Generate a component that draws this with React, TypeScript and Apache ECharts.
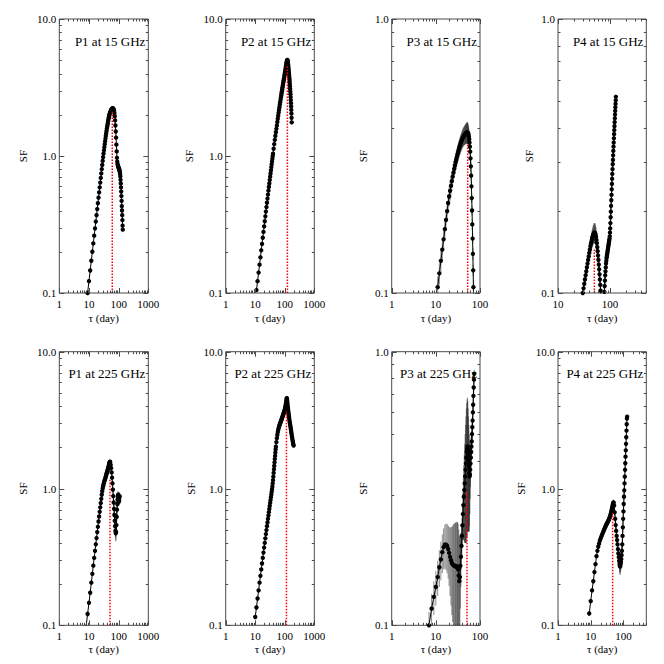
import React, { useEffect, useRef } from 'react';
import * as echarts from 'echarts';

// ---------------- data ----------------
const titles = ['P1 at 15 GHz', 'P2 at 15 GHz', 'P3 at 15 GHz', 'P4 at 15 GHz', 'P1 at 225 GHz', 'P2 at 225 GHz', 'P3 at 225 GHz', 'P4 at 225 GHz'];

const xRanges = [[1, 1000], [1, 1000], [1, 100], [10, 500], [1, 1000], [1, 1000], [1, 100], [1, 500]];
const yRanges = [[0.1, 10], [0.1, 10], [0.1, 1], [0.1, 1], [0.1, 10], [0.1, 10], [0.1, 1], [0.1, 10]];

// red dotted marker (tau of peak, height)
const markTau = [61, 123, 52.6, 50, 51, 114, 50.7, 46.8];
const markTop = [2.1, 4.5, 0.352, 0.144, 1.19, 3.65, 0.31, 0.66];

// P1 at 15 GHz
const p1_15Tau = [9, 10, 11, 12, 13, 14, 15, 16, 17, 18, 19, 20, 21, 22, 23, 24, 25, 26, 27, 28, 29, 30, 31, 32, 33, 34, 35, 36, 37, 38, 39, 40, 41, 42, 43, 44, 45, 46, 47, 48, 49, 50,
  52, 54, 56, 58, 60, 62, 64, 66, 68, 70, 72, 74, 76, 78, 80, 82, 84, 86, 88, 90, 92, 94, 96, 98, 100, 102, 104, 106, 108, 110, 112, 114, 116, 118, 120, 122, 124, 126, 128, 130, 132, 134, 136, 138];
const p1_15Sf = [0.100, 0.122, 0.146, 0.172, 0.200, 0.230, 0.262, 0.296, 0.332, 0.370,
  0.410, 0.452, 0.496, 0.542, 0.590, 0.640, 0.692, 0.746, 0.802, 0.860,
  0.920, 0.980, 1.04, 1.10, 1.16, 1.22, 1.28, 1.34, 1.40, 1.46,
  1.52, 1.58, 1.63, 1.68, 1.73, 1.78, 1.83, 1.88, 1.92, 1.96,
  2.00, 2.04,
  2.09, 2.13, 2.17, 2.20, 2.22, 2.23, 2.23, 2.22, 2.19, 2.14,
  2.06, 1.95, 1.82, 1.67, 1.51, 1.36, 1.21, 1.08, 0.97, 0.91,
  0.875, 0.855, 0.84, 0.83, 0.82, 0.81, 0.80, 0.79, 0.78, 0.76,
  0.74, 0.71, 0.67, 0.63, 0.59, 0.55, 0.51, 0.47, 0.43, 0.40,
  0.37, 0.34, 0.31, 0.29];
const p1_15Err: number[] = [];

// P2 at 15 GHz
const p2_15Tau = [11, 12, 13, 14, 15, 16, 17, 18, 19, 20, 21, 22, 23, 24, 25, 26, 27, 28, 29, 30, 31, 32, 33, 34, 35, 36, 37, 38, 39, 40,
  42, 44, 46, 48, 50, 52, 54, 56, 58, 60, 62, 64, 66, 68, 70, 72, 74, 76, 78, 80, 82, 84, 86, 88, 90, 92, 94, 96, 98, 100,
  102, 104, 106, 108, 110, 112, 114, 116, 118, 120, 122, 124, 126, 128, 130, 132, 134, 136, 138, 140,
  142, 144, 146, 148, 150, 152, 154, 156, 158, 160, 162, 164, 166, 168, 170, 172];
const p2_15Sf = [0.105, 0.122, 0.141, 0.161, 0.182, 0.205, 0.228, 0.253, 0.279, 0.306,
  0.334, 0.363, 0.393, 0.424, 0.456, 0.489, 0.523, 0.558, 0.594, 0.630,
  0.668, 0.706, 0.745, 0.785, 0.826, 0.867, 0.910, 0.953, 0.996, 1.04,
  1.13, 1.22, 1.31, 1.40, 1.49, 1.58, 1.67, 1.77, 1.87, 1.97,
  2.07, 2.17, 2.27, 2.37, 2.47, 2.57, 2.67, 2.77, 2.87, 2.97,
  3.07, 3.17, 3.27, 3.37, 3.47, 3.57, 3.67, 3.77, 3.87, 3.97,
  4.07, 4.17, 4.28, 4.40, 4.52, 4.63, 4.74, 4.84, 4.93, 4.99,
  5.02, 4.98, 4.88, 4.76, 4.62, 4.48, 4.34, 4.20, 4.06, 3.92,
  3.78, 3.64, 3.50, 3.36, 3.22, 3.08, 2.95, 2.82, 2.69, 2.56,
  2.43, 2.30, 2.17, 2.04, 1.90, 1.76];
const p2_15Err: number[] = [];

// P3 at 15 GHz
const p3_15Tau = [11, 12, 13, 14, 15, 16, 17, 18, 19, 20, 21, 22, 23, 24, 25, 26, 27, 28, 29, 30, 31, 32, 33, 34, 35, 36, 37, 38, 39, 40,
  41, 42, 43, 44, 45, 46, 47, 48, 49, 50, 51, 52, 53, 54, 55, 56, 57, 58, 59, 60, 61, 62, 63, 64, 65, 66, 67, 68, 69, 70, 71, 72, 73];
const p3_15Sf = [0.105, 0.118, 0.131, 0.144, 0.157, 0.171, 0.185, 0.199, 0.213, 0.225,
  0.236, 0.246, 0.256, 0.266, 0.275, 0.284, 0.292, 0.300, 0.307, 0.314,
  0.321, 0.327, 0.333, 0.339, 0.344, 0.349, 0.354, 0.358, 0.362, 0.366,
  0.369, 0.372, 0.374, 0.376, 0.378, 0.380, 0.381, 0.383, 0.384, 0.385,
  0.385, 0.385, 0.384, 0.382, 0.378, 0.372, 0.364, 0.354, 0.342, 0.328,
  0.310, 0.290, 0.268, 0.245, 0.222, 0.200, 0.178, 0.158, 0.139, 0.121,
  0.105, 0.091, 0.079];
const p3_15Err = [0.010, 0.011, 0.012, 0.013, 0.014, 0.015, 0.016, 0.017, 0.017, 0.018,
  0.019, 0.019, 0.020, 0.020, 0.021, 0.021, 0.022, 0.022, 0.023, 0.023,
  0.024, 0.024, 0.025, 0.025, 0.026, 0.026, 0.027, 0.027, 0.028, 0.028,
  0.029, 0.029, 0.030, 0.030, 0.031, 0.031, 0.032, 0.032, 0.033, 0.034,
  0.035, 0.035, 0.034, 0.032, 0.030, 0.027, 0.024, 0.021, 0.018, 0.016,
  0.014, 0.012, 0.011, 0.010, 0.009, 0.008, 0.008, 0.007, 0.007, 0.006,
  0.006, 0.005, 0.005];

// P4 at 15 GHz
const p4_15Tau = [28, 29, 30, 31, 32, 33, 34, 35, 36, 37, 38, 39, 40, 41, 42, 43, 44, 45, 46, 47, 48, 49, 50, 51, 52, 53, 54, 55, 56, 57,
  58, 59, 60, 61, 62, 63, 64, 65, 66, 67, 68, 69, 70, 71, 72, 73, 74, 75, 76,
  77, 78, 79, 80, 81, 82, 83, 84, 85, 86, 87, 88, 89, 90, 91, 92, 93, 94, 95, 96, 97, 98, 99, 100, 101, 102, 103, 104,
  105, 106, 107, 108, 109, 110, 111, 112, 113, 114, 115, 116, 117, 118, 119, 120, 121, 122, 123, 124, 125, 126, 127, 128, 129, 130];
const p4_15Sf = [0.088, 0.094, 0.100, 0.104, 0.108, 0.112, 0.116, 0.120, 0.124, 0.128,
  0.132, 0.136, 0.140, 0.144, 0.148, 0.151, 0.154, 0.157, 0.160, 0.162,
  0.164, 0.165, 0.166, 0.166, 0.165, 0.163, 0.160, 0.156, 0.152, 0.147,
  0.142, 0.137, 0.132, 0.127, 0.122, 0.117, 0.112, 0.107, 0.102, 0.098,
  0.094, 0.090, 0.087, 0.084, 0.082, 0.081, 0.082, 0.084, 0.088,
  0.095, 0.101, 0.106, 0.111, 0.116, 0.120, 0.124, 0.128, 0.131, 0.134,
  0.136, 0.138, 0.140, 0.142, 0.144, 0.146, 0.148, 0.150, 0.152, 0.154,
  0.156, 0.158, 0.161, 0.166, 0.172, 0.180, 0.189, 0.198, 0.208, 0.218,
  0.228, 0.239, 0.250, 0.261, 0.272, 0.283, 0.295, 0.306, 0.318, 0.330,
  0.342, 0.354, 0.367, 0.380, 0.393, 0.406, 0.420, 0.434, 0.448, 0.462,
  0.476, 0.490, 0.505, 0.520];
const p4_15Err = [0.004, 0.004, 0.005, 0.005, 0.005, 0.006, 0.006, 0.006, 0.007, 0.007,
  0.007, 0.008, 0.008, 0.009, 0.009, 0.010, 0.011, 0.012, 0.012, 0.013,
  0.013, 0.014, 0.014, 0.014, 0.014, 0.013, 0.013, 0.012, 0.011, 0.010,
  0.010, 0.009, 0.008, 0.008, 0.007, 0.007, 0.006, 0.006, 0.005, 0.005,
  0.005, 0.004, 0.004, 0.004, 0.004, 0.004, 0.004, 0.004, 0.004, 0.004,
  0.004, 0.004, 0.005, 0.005, 0.005, 0.006, 0.006, 0.006, 0.007, 0.007,
  0.007, 0.007, 0.007, 0.007, 0.007, 0.007, 0.007, 0.007, 0.007, 0.007,
  0.007, 0.007, 0.007, 0.007, 0.006, 0.006, 0.006, 0.006, 0.006, 0.006,
  0.006, 0.006, 0.006, 0.006, 0.006, 0.006, 0.006, 0.006, 0.006, 0.006,
  0.006, 0.006, 0.006, 0.006, 0.007, 0.007, 0.007, 0.007, 0.007, 0.007,
  0.007, 0.007, 0.007];

// P1 at 225 GHz
const p1_225Tau = [8, 9, 10, 11, 12, 13, 14, 15, 16, 17, 18, 19, 20, 21, 22, 23, 24, 25, 26, 27, 28, 29, 30, 31, 32, 33, 34, 35, 36, 37,
  38, 39, 40, 41, 42, 43, 44, 45, 46, 47, 48, 49, 50, 51, 52,
  54, 56, 58, 60, 62, 64, 66, 68, 70, 72, 74, 76, 78, 80, 82, 84, 86, 88, 90, 92, 94, 96, 98, 100, 102, 104, 106, 108];
const p1_225Sf = [0.098, 0.121, 0.146, 0.173, 0.205, 0.238, 0.273, 0.311, 0.350, 0.391,
  0.434, 0.480, 0.525, 0.574, 0.624, 0.675, 0.728, 0.783, 0.840, 0.900,
  0.955, 1.00, 1.04, 1.07, 1.10, 1.13, 1.15, 1.17, 1.20, 1.22,
  1.25, 1.28, 1.30, 1.32, 1.35, 1.37, 1.40, 1.42, 1.45, 1.48,
  1.51, 1.54, 1.56, 1.57, 1.56,
  1.49, 1.41, 1.31, 1.20, 1.09, 0.98, 0.88, 0.79, 0.71, 0.64,
  0.58, 0.53, 0.49, 0.47, 0.48, 0.54, 0.62, 0.70, 0.77, 0.83,
  0.87, 0.90, 0.88, 0.84, 0.80, 0.82, 0.86, 0.88];
const p1_225Err = [0.004, 0.005, 0.005, 0.006, 0.007, 0.008, 0.009, 0.010, 0.011, 0.012,
  0.013, 0.014, 0.015, 0.016, 0.017, 0.018, 0.019, 0.020, 0.021, 0.022,
  0.023, 0.024, 0.025, 0.026, 0.027, 0.028, 0.029, 0.030, 0.031, 0.032,
  0.033, 0.034, 0.035, 0.036, 0.037, 0.038, 0.040, 0.042, 0.044, 0.046,
  0.048, 0.050, 0.050, 0.050, 0.050,
  0.050, 0.050, 0.050, 0.050, 0.050, 0.050, 0.050, 0.050, 0.050, 0.050,
  0.050, 0.050, 0.050, 0.060, 0.060, 0.060, 0.060, 0.060, 0.060, 0.060,
  0.060, 0.060, 0.060, 0.060, 0.060, 0.060, 0.060, 0.060];

// P2 at 225 GHz
const p2_225Tau = [10, 11, 12, 13, 14, 15, 16, 17, 18, 19, 20, 21, 22, 23, 24, 25, 26, 27, 28, 29, 30, 31, 32, 33, 34, 35, 36, 37, 38, 39,
  40, 41, 42, 43, 44, 45, 46, 47, 48, 49, 50,
  52, 54, 56, 58, 60, 62, 64, 66, 68, 70, 72, 74, 76, 78, 80, 82, 84, 86, 88, 90, 92, 94, 96, 98, 100, 102, 104, 106, 108, 110,
  112, 114, 116, 118, 120, 122, 124, 126, 128, 130, 132, 134, 136, 138, 140,
  143, 146, 149, 152, 155, 158, 161, 164, 167, 170, 174, 178, 182, 186, 190, 195, 200];
const p2_225Sf = [0.115, 0.135, 0.157, 0.180, 0.205, 0.230, 0.256, 0.283, 0.311, 0.340,
  0.370, 0.400, 0.432, 0.464, 0.497, 0.530, 0.564, 0.599, 0.635, 0.671,
  0.708, 0.746, 0.784, 0.823, 0.862, 0.902, 0.943, 0.985, 1.03, 1.09,
  1.15, 1.22, 1.30, 1.38, 1.46, 1.55, 1.64, 1.73, 1.83, 1.93,
  2.02,
  2.18, 2.33, 2.46, 2.58, 2.68, 2.76, 2.83, 2.89, 2.95, 3.00,
  3.05, 3.10, 3.15, 3.20, 3.25, 3.30, 3.35, 3.40, 3.45, 3.50,
  3.55, 3.60, 3.65, 3.70, 3.76, 3.83, 3.91, 4.00, 4.10, 4.20,
  4.32, 4.44, 4.54, 4.58, 4.45, 4.30, 4.15, 4.00, 3.87, 3.75,
  3.64, 3.54, 3.45, 3.37, 3.30,
  3.20, 3.10, 3.02, 2.94, 2.86, 2.78, 2.71, 2.64, 2.57, 2.50,
  2.42, 2.35, 2.28, 2.22, 2.16, 2.10, 2.06];
const p2_225Err: number[] = [];

// P3 at 225 GHz
const p3_225Tau = [7, 8, 9, 10, 11, 12, 13, 14, 15, 16, 17, 18, 19, 20, 21, 22, 23, 24, 25, 26, 27, 28, 29, 30, 31, 32, 33, 34, 35, 36,
  37, 38, 39, 40, 41, 42, 43, 44, 45, 46, 47, 48, 49, 50, 51, 52, 53, 54, 55, 56, 57, 58, 59, 60, 61, 62, 63, 64, 65, 66,
  67, 68, 69, 70, 71, 72, 73, 74];
const p3_225Sf = [0.100, 0.115, 0.127, 0.138, 0.150, 0.163, 0.174, 0.185, 0.193, 0.197,
  0.197, 0.195, 0.190, 0.184, 0.178, 0.173, 0.169, 0.167, 0.166, 0.165,
  0.165, 0.164, 0.164, 0.164, 0.163, 0.160, 0.152, 0.145, 0.150, 0.165,
  0.178, 0.195, 0.212, 0.232, 0.255, 0.275, 0.295, 0.312, 0.330, 0.350,
  0.370, 0.390, 0.410, 0.430, 0.440, 0.450, 0.440, 0.420, 0.400, 0.380,
  0.360, 0.350, 0.355, 0.370, 0.390, 0.410, 0.430, 0.450, 0.470, 0.500,
  0.530, 0.560, 0.600, 0.640, 0.690, 0.740, 0.790, 0.830];
const p3_225Err = [0.012, 0.015, 0.018, 0.020, 0.022, 0.025, 0.028, 0.030, 0.033, 0.036,
  0.038, 0.040, 0.042, 0.045, 0.050, 0.055, 0.060, 0.064, 0.068, 0.070,
  0.072, 0.073, 0.074, 0.075, 0.075, 0.075, 0.072, 0.068, 0.060, 0.050,
  0.040, 0.035, 0.035, 0.040, 0.050, 0.070, 0.090, 0.110, 0.130, 0.150,
  0.170, 0.190, 0.210, 0.220, 0.230, 0.230, 0.220, 0.200, 0.180, 0.160,
  0.140, 0.120, 0.100, 0.080, 0.070, 0.060, 0.060, 0.050, 0.050, 0.050,
  0.050, 0.050, 0.040, 0.040, 0.040, 0.030, 0.030, 0.030];

// P4 at 225 GHz
const p4_225Tau = [9, 10, 11, 12, 13, 14, 15, 16, 17, 18, 19, 20, 21, 22, 23, 24, 25, 26, 27, 28, 29, 30, 31, 32, 33, 34, 35, 36, 37, 38,
  39, 40, 41, 42, 43, 44, 45, 46, 47, 48, 49, 50,
  52, 54, 56, 58, 60, 62, 64, 66, 68, 70, 72, 74, 76, 78, 80, 82, 84, 86, 88, 90,
  92, 94, 96, 98, 100, 102, 104, 106, 108, 110, 112, 114, 116, 118, 120, 122, 124, 126, 128, 130];
const p4_225Sf = [0.122, 0.150, 0.180, 0.210, 0.245, 0.280, 0.320, 0.350, 0.375, 0.395,
  0.415, 0.430, 0.443, 0.456, 0.468, 0.480, 0.492, 0.503, 0.514, 0.524,
  0.534, 0.543, 0.552, 0.560, 0.568, 0.576, 0.584, 0.593, 0.603, 0.614,
  0.626, 0.639, 0.653, 0.668, 0.684, 0.701, 0.719, 0.738, 0.757, 0.774,
  0.785, 0.790,
  0.750, 0.670, 0.600, 0.540, 0.490, 0.450, 0.420, 0.390, 0.360, 0.335,
  0.315, 0.295, 0.280, 0.270, 0.270, 0.280, 0.290, 0.305, 0.325, 0.350,
  0.390, 0.450, 0.520, 0.600, 0.680, 0.770, 0.870, 0.970, 1.09, 1.22,
  1.37, 1.53, 1.71, 1.90, 2.12, 2.37, 2.65, 2.95, 3.25, 3.35];
const p4_225Err = [0.004, 0.005, 0.006, 0.007, 0.008, 0.009, 0.010, 0.011, 0.012, 0.013,
  0.014, 0.015, 0.016, 0.017, 0.018, 0.019, 0.020, 0.021, 0.022, 0.023,
  0.024, 0.025, 0.026, 0.027, 0.028, 0.029, 0.030, 0.031, 0.032, 0.033,
  0.034, 0.035, 0.036, 0.037, 0.038, 0.039, 0.040, 0.040, 0.040, 0.040,
  0.040, 0.040,
  0.040, 0.040, 0.040, 0.040, 0.040, 0.040, 0.040, 0.035, 0.035, 0.035,
  0.035, 0.035, 0.035, 0.035, 0.035, 0.035, 0.035, 0.035, 0.035, 0.035,
  0.035, 0.040, 0.040, 0.045, 0.050, 0.050, 0.055, 0.060, 0.060, 0.065,
  0.070, 0.070, 0.075, 0.080, 0.080, 0.085, 0.090, 0.090, 0.095, 0.100];

const taus = [p1_15Tau, p2_15Tau, p3_15Tau, p4_15Tau, p1_225Tau, p2_225Tau, p3_225Tau, p4_225Tau];
const sfs = [p1_15Sf, p2_15Sf, p3_15Sf, p4_15Sf, p1_225Sf, p2_225Sf, p3_225Sf, p4_225Sf];
const errs = [p1_15Err, p2_15Err, p3_15Err, p4_15Err, p1_225Err, p2_225Err, p3_225Err, p4_225Err];

// ---------------- layout / style ----------------
const FONT = '"Liberation Serif", "Times New Roman", serif';
const FRAME = '#4a4a4a';
const LEFTS = [59.3, 225.7, 391.7, 558];
const WIDTHS = [89, 88.6, 88.3, 88.3];
const TOPS = [19, 351.7];
const HEIGHTS = [274, 273.6];
const SF_X = [[23.3, 189.3, 363.3, 529.3], [23.3, 191, 363.3, 521]];
const TITLE_Y = [41.7, 373.3];
const TAU_Y = [317.5, 649.3];

function isDecade(v: number) {
  const l = Math.log10(v);
  return Math.abs(l - Math.round(l)) < 1e-6;
}

function logTicks(min: number, max: number): [number, boolean][] {
  const out: [number, boolean][] = [];
  const e0 = Math.floor(Math.log10(min) + 1e-9);
  const e1 = Math.ceil(Math.log10(max) - 1e-9);
  for (let e = e0; e <= e1; e++) {
    for (let m = 1; m <= 9; m++) {
      const v = m * Math.pow(10, e);
      if (v >= min * 0.9999 && v <= max * 1.0001) out.push([v, m === 1]);
    }
  }
  return out;
}

function buildOption() {
  const grid: any[] = [];
  const xAxis: any[] = [];
  const yAxis: any[] = [];
  const series: any[] = [];
  const graphic: any[] = [];

  for (let i = 0; i < 8; i++) {
    const r = Math.floor(i / 4);
    const c = i % 4;
    const left = LEFTS[c], top = TOPS[r], w = WIDTHS[c], h = HEIGHTS[r];
    const [x0, x1] = xRanges[i];
    const [y0, y1] = yRanges[i];

    grid.push({ left, top, width: w, height: h, show: true, borderColor: FRAME, borderWidth: 1, backgroundColor: 'rgba(0,0,0,0)', containLabel: false, outerBoundsMode: 'none' });
    xAxis.push({
      type: 'log', logBase: 10, gridIndex: i, min: x0, max: x1,
      axisLine: { show: false }, axisTick: { show: false }, splitLine: { show: false },
      minorTick: { show: false }, minorSplitLine: { show: false },
      axisLabel: {
        color: '#000', fontFamily: FONT, fontSize: 11, margin: 5, showMinLabel: true, showMaxLabel: true,
        formatter: (v: number) => (isDecade(v) ? String(Math.round(v)) : ''),
      },
    });
    yAxis.push({
      type: 'log', logBase: 10, gridIndex: i, min: y0, max: y1,
      axisLine: { show: false }, axisTick: { show: false }, splitLine: { show: false },
      minorTick: { show: false }, minorSplitLine: { show: false },
      axisLabel: {
        color: '#000', fontFamily: FONT, fontSize: 11, margin: 3, showMinLabel: true, showMaxLabel: true,
        formatter: (v: number) => (isDecade(v) ? v.toFixed(1) : ''),
      },
    });

    const tau = taus[i], sf = sfs[i], err = errs[i];

    if (err.length) {
      series.push({
        type: 'custom', xAxisIndex: i, yAxisIndex: i, clip: true, silent: true, z: 1,
        data: tau.map((t, j) => [t, Math.max(sf[j] - err[j], 0.001), sf[j] + err[j]]),
        encode: { x: 0, y: [1, 2] },
        renderItem: (_p: any, api: any) => {
          const a = api.coord([api.value(0), api.value(1)]);
          const b = api.coord([api.value(0), api.value(2)]);
          return { type: 'line', shape: { x1: a[0], y1: a[1], x2: b[0], y2: b[1] }, style: { stroke: 'rgba(0,0,0,0.45)', lineWidth: 1 } };
        },
      });
    }

    series.push({
      type: 'line', xAxisIndex: i, yAxisIndex: i, clip: true, z: 3, silent: true,
      data: tau.map((t, j) => [t, sf[j]]),
      symbol: 'circle', symbolSize: 4.4, showSymbol: true,
      itemStyle: { color: '#000' }, lineStyle: { color: '#000', width: 1 },
    });

    series.push({
      type: 'line', xAxisIndex: i, yAxisIndex: i, clip: true, z: 4, silent: true,
      data: [[markTau[i], y0], [markTau[i], markTop[i]]],
      symbol: 'none', lineStyle: { color: '#ff0000', type: 'dotted', width: 1.5 },
    });

    const xt = logTicks(x0, x1);
    const yt = logTicks(y0, y1);
    series.push({
      type: 'custom', xAxisIndex: i, yAxisIndex: i, clip: false, silent: true, z: 6,
      data: [[x0, y0]],
      renderItem: (_p: any, api: any) => {
        const ch: any[] = [];
        const seg = (a: number, b: number, cc: number, d: number) => ({ type: 'line', shape: { x1: a, y1: b, x2: cc, y2: d }, style: { stroke: FRAME, lineWidth: 1 } });
        for (const [v, maj] of xt) {
          const b = api.coord([v, y0]);
          const t = api.coord([v, y1]);
          const L = maj ? 5 : 2.5;
          const x = Math.round(b[0]) + 0.5;
          ch.push(seg(x, b[1], x, b[1] - L), seg(x, t[1], x, t[1] + L));
        }
        for (const [v, maj] of yt) {
          const l = api.coord([x0, v]);
          const rr = api.coord([x1, v]);
          const L = maj ? 5 : 2.5;
          const y = Math.round(l[1]) + 0.5;
          ch.push(seg(l[0], y, l[0] + L, y), seg(rr[0], y, rr[0] - L, y));
        }
        return { type: 'group', children: ch };
      },
    });

    graphic.push({
      type: 'text', x: left + w - 3, y: TITLE_Y[r], z: 10,
      style: { text: titles[i], fontFamily: FONT, fontSize: 13, fill: '#000', align: 'right', verticalAlign: 'middle' },
    });
    graphic.push({
      type: 'text', x: SF_X[r][c], y: top + h / 2, rotation: Math.PI / 2, z: 10,
      style: { text: 'SF', fontFamily: FONT, fontSize: 11, fill: '#000', align: 'center', verticalAlign: 'middle' },
    });
    graphic.push({
      type: 'text', x: left + w / 2, y: TAU_Y[r], z: 10,
      style: { text: '\u03c4 (day)', fontFamily: FONT, fontSize: 11, fill: '#000', align: 'center', verticalAlign: 'middle' },
    });
  }

  return { animation: false, backgroundColor: '#ffffff', grid, xAxis, yAxis, series, graphic };
}

export default function App() {
  const ref = useRef<HTMLDivElement>(null);
  useEffect(() => {
    const chart = echarts.init(ref.current!, null, { renderer: 'svg' });
    chart.setOption(buildOption() as any);
    return () => chart.dispose();
  }, []);
  return <div ref={ref} style={{ position: 'absolute', left: 0, top: 0, width: 664, height: 664 }} />;
}
